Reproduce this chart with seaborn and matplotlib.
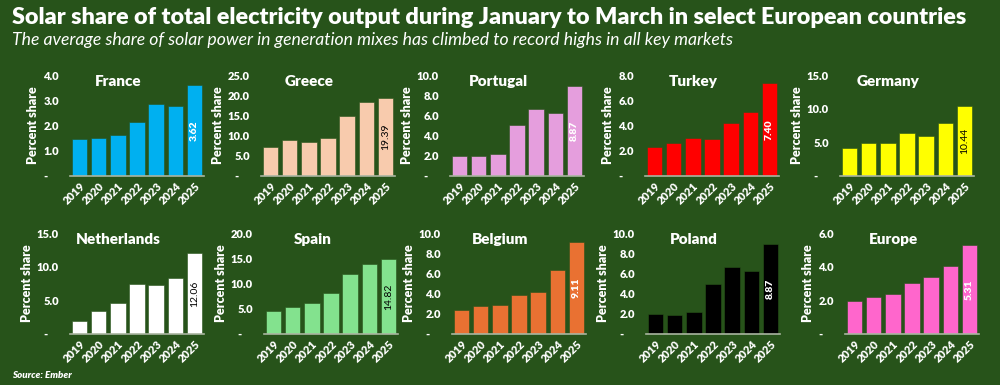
import matplotlib
matplotlib.use('Agg')
import matplotlib.pyplot as plt
import seaborn as sns
from matplotlib.ticker import FuncFormatter

years = ['2019', '2020', '2021', '2022', '2023', '2024', '2025']

countries = ['France', 'Greece', 'Portugal', 'Turkey', 'Germany',
             'Netherlands', 'Spain', 'Belgium', 'Poland', 'Europe']

france = [1.47, 1.51, 1.62, 2.12, 2.87, 2.76, 3.62]
greece = [7.3, 8.85, 8.44, 9.34, 14.9, 18.3, 19.39]
portugal = [2.0, 1.94, 2.17, 5.07, 6.68, 6.28, 8.87]
turkey = [2.3, 2.59, 3.0, 2.9, 4.2, 5.07, 7.40]
germany = [4.14, 4.83, 4.93, 6.4, 5.96, 7.88, 10.44]
netherlands = [1.97, 3.4, 4.58, 7.44, 7.34, 8.28, 12.06]
spain = [4.6, 5.4, 6.2, 8.1, 11.8, 13.9, 14.82]
belgium = [2.33, 2.79, 2.85, 3.84, 4.2, 6.3, 9.11]
poland = [1.97, 1.9, 2.14, 5.0, 6.64, 6.25, 8.87]
europe = [1.95, 2.21, 2.37, 3.04, 3.41, 4.04, 5.31]

values = [france, greece, portugal, turkey, germany,
          netherlands, spain, belgium, poland, europe]
colors = ['#00B0F0', '#F8CBAD', '#E59EDD', '#FF0000', '#FFFF00',
          '#FFFFFF', '#83E28E', '#E97132', '#000000', '#FF66CC']
label_colors = ['white', 'black', 'white', 'white', 'black',
                'black', 'black', 'white', 'white', 'white']
y_max = [4, 25, 10, 8, 15, 15, 20, 10, 10, 6]
y_step = [1, 5, 2, 2, 5, 5, 5, 2, 2, 2]

bg = '#27531A'
fam = ['Lato', 'DejaVu Sans']

sns.set_style('dark')
plt.rcParams['font.family'] = fam

fig = plt.figure(figsize=(10, 3.85), dpi=100)
fig.patch.set_facecolor(bg)

W, H = 1000, 385
lefts = [[70, 261, 450, 645, 840], [70, 264, 452, 646, 845]]
bottoms = [176, 334]
ax_w, ax_h = 134, 101

def zero_dash(v, pos):
    return '-    ' if abs(v) < 1e-9 else f'{v:.1f}'

for i, name in enumerate(countries):
    row, col = divmod(i, 5)
    left = lefts[row][col]
    ax = fig.add_axes([left / W, 1 - bottoms[row] / H, ax_w / W, ax_h / H])
    ax.set_facecolor(bg)
    sns.barplot(x=years, y=values[i], color=colors[i], saturation=1,
                width=0.8, edgecolor=bg, linewidth=0.4, ax=ax)
    ax.set_xlim(-0.5, 6.5)
    ax.set_ylim(0, y_max[i])
    ax.set_yticks([k * y_step[i] for k in range(y_max[i] // y_step[i] + 1)])
    ax.yaxis.set_major_formatter(FuncFormatter(zero_dash))
    ax.tick_params(axis='y', colors='white', labelsize=8, length=0, pad=8)
    ax.tick_params(axis='x', colors='white', labelsize=8, length=0, pad=3)
    for lab in ax.get_yticklabels():
        lab.set_fontweight('heavy')
    for lab in ax.get_xticklabels():
        lab.set_fontweight('heavy')
        lab.set_rotation(45)
        lab.set_ha('right')
        lab.set_rotation_mode('anchor')
    ax.set_xlabel('')
    ax.set_ylabel('Percent share', color='white', fontsize=9,
                  fontweight='heavy', labelpad=3)
    ax.grid(False)
    for s in ['top', 'right', 'left']:
        ax.spines[s].set_visible(False)
    ax.spines['bottom'].set_visible(True)
    ax.spines['bottom'].set_color('#A9B5A0')
    ax.spines['bottom'].set_linewidth(1.2)
    ax.text(0.36, 0.94, name, transform=ax.transAxes, ha='center',
            va='center', color='white', fontsize=11, fontweight='heavy')
    last = values[i][-1]
    ax.text(6, last / 2, f'{last:.2f}', rotation=90, ha='center',
            va='center', color=label_colors[i], fontsize=7.5,
            fontweight='heavy' if label_colors[i] == 'white' else 'normal')

fig.text(12 / W, 1 - 17 / H, 'Solar share of total electricity output during January to March in select European countries',
         color='white', fontsize=16.8, fontweight='heavy', ha='left', va='center')
fig.text(12 / W, 1 - 40 / H, 'The average share of solar power in generation mixes has climbed to record highs in all key markets',
         color='white', fontsize=12.7, fontstyle='italic', ha='left', va='center')
fig.text(12 / W, 1 - 375 / H, 'Source: Ember', color='white', fontsize=7,
         fontweight='heavy', fontstyle='italic', ha='left', va='center')

fig.savefig('out.png', dpi=100, facecolor=bg)
